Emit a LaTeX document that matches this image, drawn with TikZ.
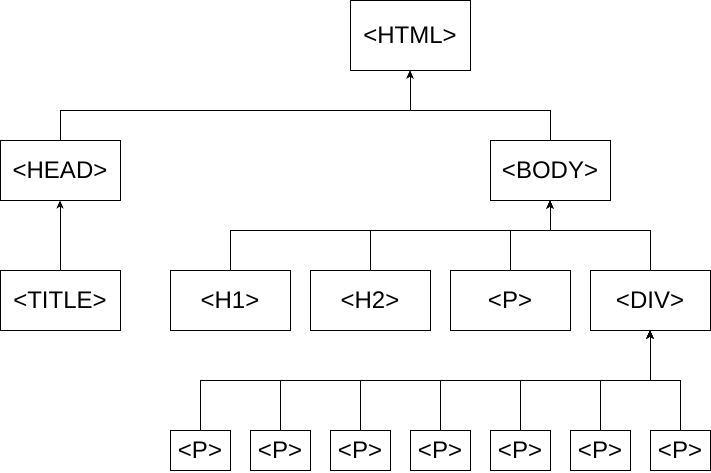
\documentclass[tikz,border=0pt]{standalone}
\usepackage{fontspec}
\setmainfont{Liberation Sans}
\usetikzlibrary{arrows.meta}

\tikzset{
  tag/.style={draw, line width=1pt, minimum width=120pt, minimum height=60pt,
    inner sep=0pt, font=\fontsize{24}{28}\selectfont},
  smalltag/.style={tag, minimum width=60pt, minimum height=40pt},
  link/.style={line width=1pt, -{Stealth[length=8pt,width=7pt,inset=2pt]}},
}

\begin{document}
\begin{tikzpicture}[x=1pt,y=-1pt]
  \useasboundingbox (0,0) rectangle (711,472);

  % top levels
  \node[tag, minimum height=70pt] (html) at (410,35) {<HTML>};
  \node[tag] (head) at (60,170) {<HEAD>};
  \node[tag] (body) at (550,170) {<BODY>};
  \node[tag] (title) at (60,300) {<TITLE>};

  % body children
  \node[tag] (h1) at (230,300) {<H1>};
  \node[tag] (h2) at (370,300) {<H2>};
  \node[tag] (p) at (510,300) {<P>};
  \node[tag] (div) at (650,300) {<DIV>};

  % div children
  \foreach \i/\x in {1/200,2/280,3/360,4/440,5/520,6/600,7/680} {
    \node[smalltag] (p\i) at (\x,450) {<P>};
  }

  % junction points
  \coordinate (htmlbus) at (410,110);
  \coordinate (bodybus) at (550,230);
  \coordinate (divbus) at (650,380);

  \draw[link] (head.north) |- (htmlbus) -- (html.south);
  \draw[link] (body.north) |- (htmlbus) -- (html.south);
  \draw[link] (title) -- (head);
  \foreach \n in {h1,h2,p,div}
    \draw[link] (\n.north) |- (bodybus) -- (body.south);
  \foreach \i in {1,...,7}
    \draw[link] (p\i.north) |- (divbus) -- (div.south);
\end{tikzpicture}
\end{document}
